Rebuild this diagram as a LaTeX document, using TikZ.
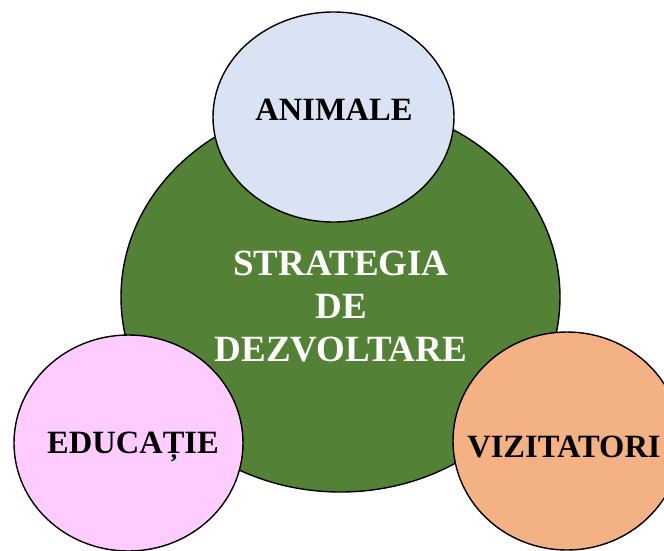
\documentclass[tikz,border=0pt]{standalone}
\usepackage{fontspec}
\setmainfont{Liberation Serif}
\usetikzlibrary{shapes.geometric}
\definecolor{green}{RGB}{83,129,53}
\definecolor{lblue}{RGB}{218,227,243}
\definecolor{pink}{RGB}{255,204,255}
\definecolor{peach}{RGB}{244,177,131}
\tikzset{
    bubble/.style = {ellipse, draw=black, line width=1.4pt, inner sep=0pt},
    blabel/.style = {font=\fontsize{32.5}{36}\selectfont\bfseries, text=black},
    wlabel/.style = {font=\fontsize{37}{43}\selectfont\bfseries, text=white, align=center}
}
\begin{document}
\begin{tikzpicture}[x=1pt, y=-1pt, line cap=round, line join=round]
\useasboundingbox (0,0) rectangle (664,550);
\node [bubble, fill=green, minimum width=439pt, minimum height=390pt] (strategie) at (340.5,297) {};
\node [bubble, fill=lblue, minimum width=241pt, minimum height=210pt] (animale) at (333.5,117) {};
\node [bubble, fill=pink, minimum width=229pt, minimum height=216pt] (educatie) at (128.5,443) {};
\node [bubble, fill=peach, minimum width=228pt, minimum height=218pt] (vizitatori) at (567,441) {};
\node [wlabel] (tstrategie) at (341,307) {STRATEGIA\\DE\\DEZVOLTARE};
\node [blabel] (tanimale) at (334,110) {ANIMALE};
\node [blabel] (teducatie) at (133,447) {EDUCAȚIE};
\node [blabel] (tvizitatori) at (564,447) {VIZITATORI};
\end{tikzpicture}
\end{document}
